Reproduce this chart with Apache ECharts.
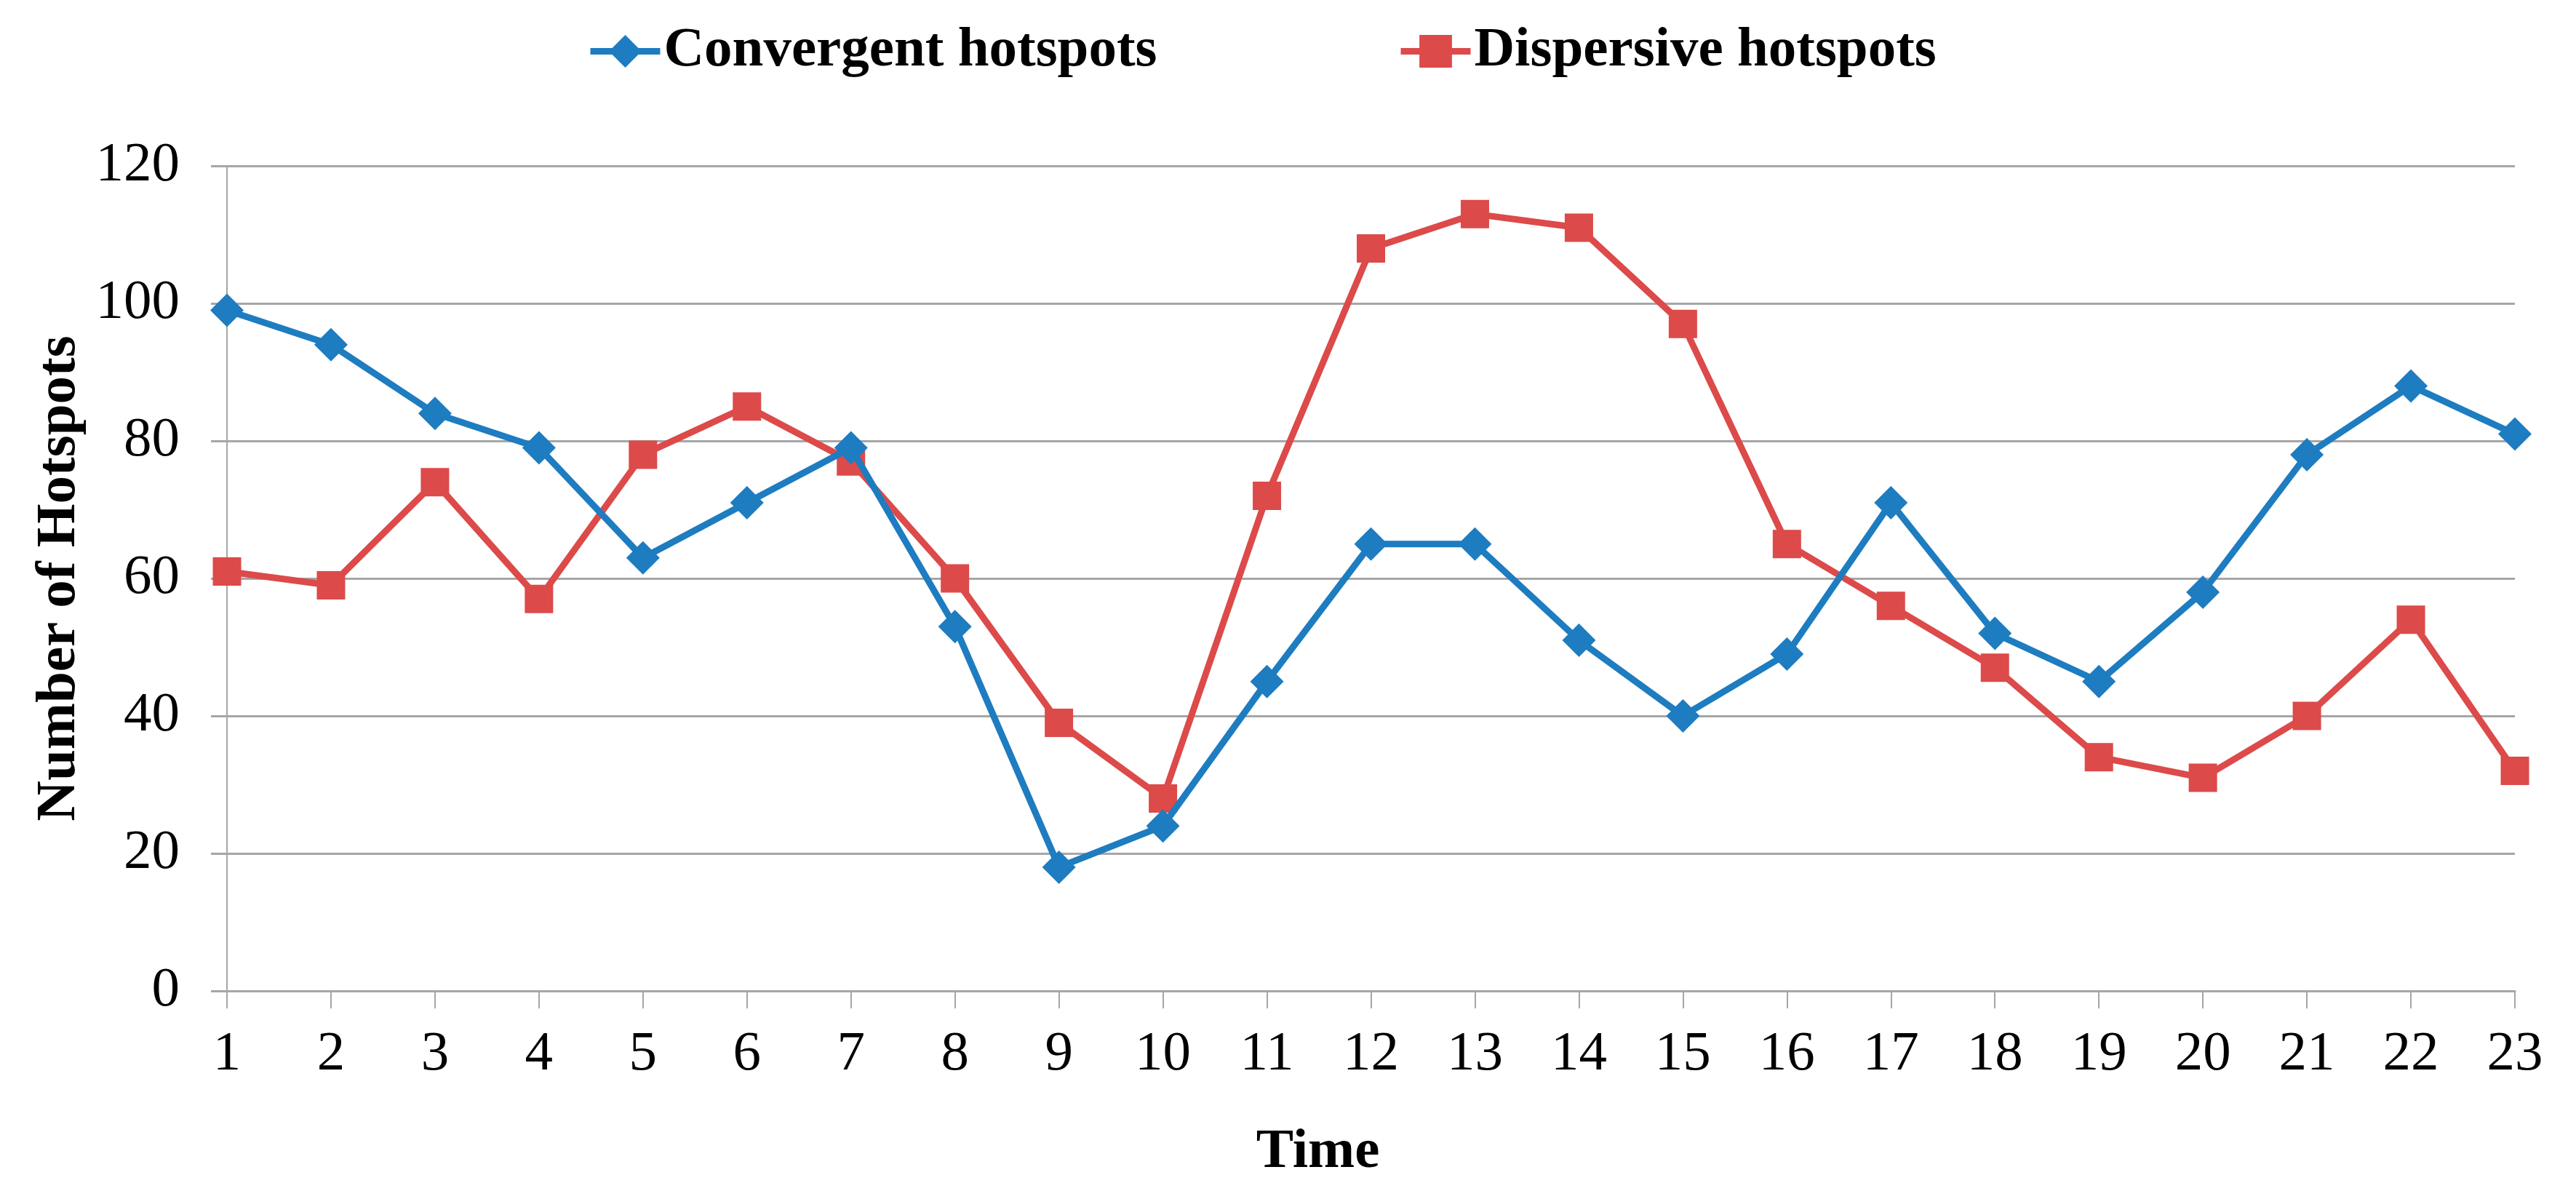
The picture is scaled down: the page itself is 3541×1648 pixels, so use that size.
<!DOCTYPE html>
<html>
<head>
<meta charset="utf-8">
<script src="https://cdn.jsdelivr.net/npm/echarts@6/dist/echarts.min.js"></script>
<style>
html,body{margin:0;padding:0;background:#fff;}
#chart{width:3541px;height:1648px;}
</style>
</head>
<body>
<div id="chart"></div>
<script>
const categories = ['1','2','3','4','5','6','7','8','9','10','11','12','13','14','15','16','17','18','19','20','21','22','23'];
const convergent = [99,94,84,79,63,71,79,53,18,24,45,65,65,51,40,49,71,52,45,58,78,88,81];
const dispersive = [61,59,74,57,78,85,77,60,39,28,72,108,113,111,97,65,56,47,34,31,40,54,32];
const yTicks = [0,20,40,60,80,100,120];

const FONT = 'Liberation Serif';
const BLUE = '#1E7CC0';
const RED = '#DC4A4A';
const GRID = '#A6A6A6';

const chart = echarts.init(document.getElementById('chart'), null, {renderer:'canvas'});
chart.setOption({
  backgroundColor:'#fff',
  animation:false,
  textStyle:{fontFamily:FONT},
  legend:[
    {left:807, top:32, padding:0, itemWidth:96, itemHeight:56, data:['Convergent hotspots'],
     lineStyle:{width:9},
     textStyle:{fontFamily:FONT, fontSize:77, fontWeight:'bold', color:'#000'}},
    {left:1921, top:32, padding:0, itemWidth:96, itemHeight:56, data:['Dispersive hotspots'],
     lineStyle:{width:9},
     textStyle:{fontFamily:FONT, fontSize:77, fontWeight:'bold', color:'#000'}}
  ],
  grid:{left:312, right:84, top:228, bottom:286, containLabel:false},
  xAxis:{
    type:'category', data:categories, boundaryGap:false,
    name:'Time', nameLocation:'middle', nameGap:222,
    nameTextStyle:{fontFamily:FONT, fontSize:77, fontWeight:'bold', color:'#000', verticalAlign:'middle', padding:[0,146,0,0]},
    axisLine:{lineStyle:{color:GRID, width:3}},
    axisTick:{show:true, length:24, lineStyle:{color:GRID, width:2}, alignWithLabel:true},
    axisLabel:{fontFamily:FONT, fontSize:77, color:'#000', margin:88, verticalAlign:'middle', interval:0},
    splitLine:{show:false}
  },
  yAxis:{
    type:'value', min:0, max:120, interval:20,
    name:'Number of Hotspots', nameLocation:'middle', nameGap:227, nameRotate:90,
    nameTextStyle:{fontFamily:FONT, fontSize:77, fontWeight:'bold', color:'#000', verticalAlign:'middle'},
    axisLine:{show:true, lineStyle:{color:GRID, width:2}},
    axisTick:{show:true, length:22, lineStyle:{color:GRID, width:3}},
    axisLabel:{fontFamily:FONT, fontSize:77, color:'#000', margin:65,
      formatter:function(v){return yTicks.indexOf(v)>=0 ? String(v) : '';}},
    splitLine:{show:true, lineStyle:{color:GRID, width:3}}
  },
  series:[
    {name:'Convergent hotspots', type:'line', data:convergent,
     symbol:'diamond', symbolSize:[46,46], showSymbol:true,
     lineStyle:{color:BLUE, width:9}, itemStyle:{color:BLUE}, z:3},
    {name:'Dispersive hotspots', type:'line', data:dispersive,
     symbol:'rect', symbolSize:39, showSymbol:true,
     lineStyle:{color:RED, width:9}, itemStyle:{color:RED}, z:2}
  ]
});
</script>
</body>
</html>
